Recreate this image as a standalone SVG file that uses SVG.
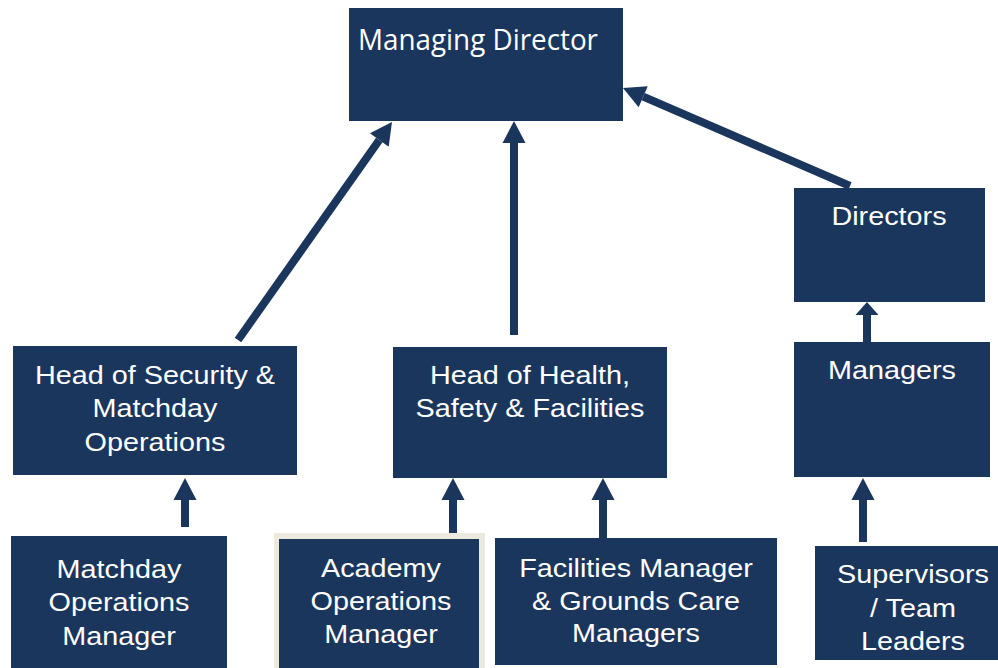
<svg xmlns="http://www.w3.org/2000/svg" width="998" height="668" viewBox="0 0 998 668">
  <style>
    .box { fill: #1b365d; }
    .frame { fill: #ece9df; }
    .lbl { font-family: "Liberation Sans", Arial, sans-serif; font-size: 25.5px; fill: #ffffff; text-anchor: middle; }
    .lbl-top { font-family: "Open Sans", "Noto Sans", sans-serif; font-size: 29px; fill: #ffffff; }
    .link { stroke: #1b365d; stroke-width: 8; fill: none; marker-end: url(#head); }
    .link-short { stroke: #1b365d; stroke-width: 8; fill: none; marker-end: url(#head-short); }
  </style>
  <defs>
    <marker id="head" markerUnits="userSpaceOnUse" markerWidth="22" markerHeight="23" refX="0" refY="11.5" orient="auto" overflow="visible">
      <path d="M0,0 L22,11.5 L0,23 Z" fill="#1b365d"/>
    </marker>
    <marker id="head-short" markerUnits="userSpaceOnUse" markerWidth="13" markerHeight="23" refX="0" refY="11.5" orient="auto" overflow="visible">
      <path d="M0,0 L13,11.5 L0,23 Z" fill="#1b365d"/>
    </marker>
  </defs>

  <rect width="998" height="668" fill="#ffffff"/>

  <!-- reporting lines -->
  <g id="connectors">
    <line class="link" x1="238" y1="340" x2="379.3" y2="140"/>
    <line class="link" x1="514" y1="335" x2="514" y2="143"/>
    <line class="link" x1="850" y1="186" x2="643.2" y2="96.7"/>
    <line class="link-short" x1="867" y1="342" x2="867" y2="315"/>
    <line class="link" x1="185" y1="527" x2="185" y2="500"/>
    <line class="link" x1="453" y1="540" x2="453" y2="500"/>
    <line class="link" x1="603" y1="540" x2="603" y2="500"/>
    <line class="link" x1="863" y1="542" x2="863" y2="500"/>
  </g>

  <g id="managing-director">
    <rect class="box" x="349" y="8" width="274" height="113"/>
    <text class="lbl-top" x="358" y="50" textLength="240" lengthAdjust="spacingAndGlyphs">Managing Director</text>
  </g>

  <g id="directors">
    <rect class="box" x="794" y="188" width="191" height="114"/>
    <g transform="matrix(1.13 0 0 1 -115.57 0)">
      <text class="lbl" x="889" y="225">Directors</text>
    </g>
  </g>

  <g id="managers">
    <rect class="box" x="794" y="342" width="196" height="135"/>
    <g transform="matrix(1.13 0 0 1 -115.96 0)">
      <text class="lbl" x="892" y="379">Managers</text>
    </g>
  </g>

  <g id="supervisors">
    <rect class="box" x="815" y="546" width="183" height="114"/>
    <g transform="matrix(1.13 0 0 1 -118.69 0)">
      <text class="lbl" x="913" y="583">Supervisors</text>
      <text class="lbl" x="913" y="617">/ Team</text>
      <text class="lbl" x="913" y="650">Leaders</text>
    </g>
  </g>

  <g id="head-security">
    <rect class="box" x="13" y="346" width="284" height="129"/>
    <g transform="matrix(1.13 0 0 1 -20.15 0)">
      <text class="lbl" x="155" y="384">Head of Security &amp;</text>
      <text class="lbl" x="155" y="417.5">Matchday</text>
      <text class="lbl" x="155" y="451">Operations</text>
    </g>
  </g>

  <g id="head-health-safety">
    <rect class="box" x="393" y="347" width="274" height="131"/>
    <g transform="matrix(1.13 0 0 1 -68.9 0)">
      <text class="lbl" x="530" y="384">Head of Health,</text>
      <text class="lbl" x="530" y="417">Safety &amp; Facilities</text>
    </g>
  </g>

  <g id="matchday-ops-manager">
    <rect class="box" x="11" y="536" width="216" height="132"/>
    <g transform="matrix(1.13 0 0 1 -15.47 0)">
      <text class="lbl" x="119" y="578">Matchday</text>
      <text class="lbl" x="119" y="611.5">Operations</text>
      <text class="lbl" x="119" y="645">Manager</text>
    </g>
  </g>

  <g id="academy-ops-manager">
    <rect class="frame" x="274" y="533" width="211" height="135"/>
    <rect class="box" x="279" y="539" width="200" height="129"/>
    <g transform="matrix(1.13 0 0 1 -49.53 0)">
      <text class="lbl" x="381" y="577">Academy</text>
      <text class="lbl" x="381" y="610">Operations</text>
      <text class="lbl" x="381" y="643">Manager</text>
    </g>
  </g>

  <g id="facilities-manager">
    <rect class="box" x="495" y="538" width="282" height="127"/>
    <g transform="matrix(1.13 0 0 1 -82.68 0)">
      <text class="lbl" x="636" y="577">Facilities Manager</text>
      <text class="lbl" x="636" y="610">&amp; Grounds Care</text>
      <text class="lbl" x="636" y="642">Managers</text>
    </g>
  </g>
</svg>
